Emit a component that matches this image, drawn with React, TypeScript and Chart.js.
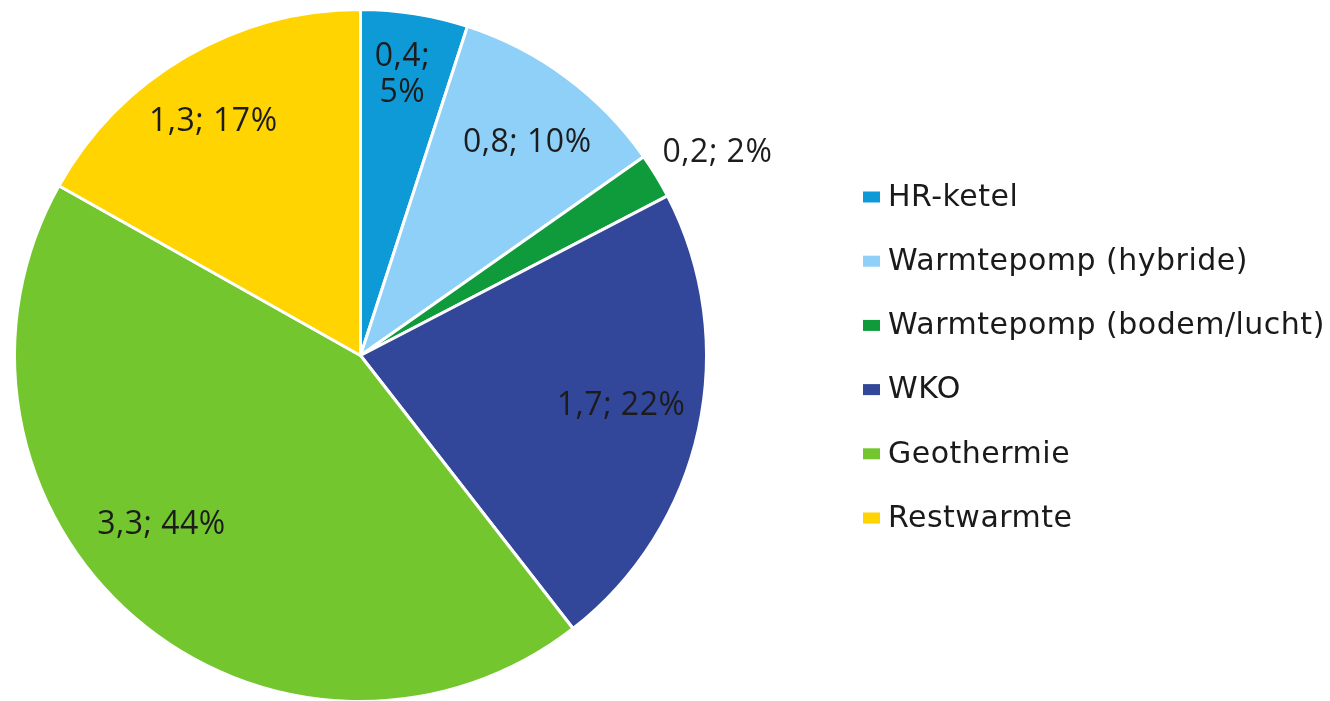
import React, { useEffect, useRef } from "react";
import { Chart, registerables } from "chart.js";

Chart.register(...registerables);

const categories = [
  "HR-ketel",
  "Warmtepomp (hybride)",
  "Warmtepomp (bodem/lucht)",
  "WKO",
  "Geothermie",
  "Restwarmte",
];
const values = [0.38, 0.78, 0.16, 1.68, 3.32, 1.28];
const colors = ["#0E9AD7", "#8ED0F8", "#0F9A3B", "#33479A", "#73C62E", "#FFD400"];

// label placement: fraction of radius, angular nudge (degrees) and two-line wrapping per slice
const labelRadius = [0.82, 0.78, 1.186, 0.767, 0.756, 0.798];
const labelNudgeDeg = [-0.5, 1.7, 1.7, -1.4, 8.8, -1.9];
const labelWrap = [true, false, false, false, false, false];

const fmtValue = (v: number) => v.toFixed(1).replace(".", ",");

const CANVAS_W = 1330;
const CANVAS_H = 712;

const labelPlugin = {
  id: "sliceLabels",
  afterDatasetsDraw(chart: any) {
    const ctx = chart.ctx;
    const meta = chart.getDatasetMeta(0);
    const data = chart.data.datasets[0].data as number[];
    const total = data.reduce((a, b) => a + b, 0);
    ctx.save();
    ctx.font = "32px 'Open Sans'";
    try {
      (ctx as any).letterSpacing = "0.5px";
    } catch (e) {}
    ctx.fillStyle = "#1c1c1c";
    ctx.textAlign = "center";
    ctx.textBaseline = "middle";
    meta.data.forEach((arc: any, i: number) => {
      const p = arc.getProps(["x", "y", "startAngle", "endAngle", "outerRadius"], true);
      const mid = (p.startAngle + p.endAngle) / 2 + (labelNudgeDeg[i] * Math.PI) / 180;
      const r = p.outerRadius * labelRadius[i];
      const cx = p.x + Math.cos(mid) * r;
      const cy = p.y + Math.sin(mid) * r;
      const pct = Math.round((data[i] / total) * 100);
      const a = fmtValue(data[i]) + ";";
      const b = pct + "%";
      if (labelWrap[i]) {
        ctx.fillText(a, cx, cy - 18);
        ctx.fillText(b, cx, cy + 18);
      } else {
        ctx.fillText(a + " " + b, cx, cy);
      }
    });
    ctx.restore();
  },
};

const legendPlugin = {
  id: "sideLegend",
  afterDraw(chart: any) {
    const ctx = chart.ctx;
    const labels = chart.data.labels as string[];
    const bg = chart.data.datasets[0].backgroundColor as string[];
    ctx.save();
    ctx.font = "30px 'DejaVu Sans'";
    try {
      (ctx as any).letterSpacing = "0.5px";
    } catch (e) {}
    ctx.textAlign = "left";
    ctx.textBaseline = "middle";
    labels.forEach((lab, i) => {
      const y = 197 + i * 64.2;
      ctx.fillStyle = bg[i];
      ctx.fillRect(863, y - 5.5, 17, 11);
      ctx.fillStyle = "#1a1a1a";
      ctx.fillText(lab, 888, y + 1);
    });
    ctx.restore();
  },
};

export default function App() {
  const ref = useRef<HTMLCanvasElement | null>(null);
  useEffect(() => {
    if (!ref.current) return;
    const chart = new Chart(ref.current, {
      type: "pie",
      data: {
        labels: categories,
        datasets: [
          {
            data: values,
            backgroundColor: colors,
            borderColor: "#ffffff",
            borderWidth: 3,
          },
        ],
      },
      options: {
        responsive: false,
        animation: false,
        layout: { padding: { left: 13, top: 8, right: CANVAS_W - 708, bottom: CANVAS_H - 703 } },
        plugins: {
          legend: { display: false },
          tooltip: { enabled: false },
        },
      },
      plugins: [labelPlugin, legendPlugin],
    });
    return () => chart.destroy();
  }, []);
  return (
    <div
      style={{
        position: "absolute",
        left: 0,
        top: 0,
        width: 1330,
        height: 701,
        overflow: "hidden",
        background: "#ffffff",
      }}
    >
      <canvas ref={ref} width={CANVAS_W} height={CANVAS_H} style={{ width: CANVAS_W, height: CANVAS_H, display: "block" }} />
    </div>
  );
}
